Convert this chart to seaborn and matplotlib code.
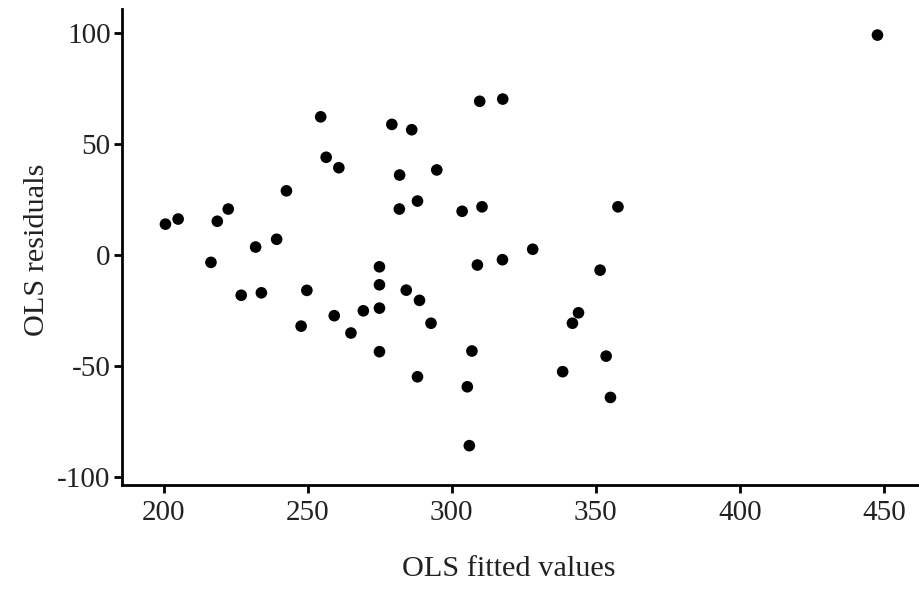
import numpy as np
import pandas as pd
import matplotlib
matplotlib.use("Agg")
import matplotlib.pyplot as plt
import seaborn as sns

fitted = [200.6, 205.0, 218.6, 222.4, 231.9, 239.2, 242.6, 254.5, 256.4, 260.8,
          279.2, 286.1, 281.9, 281.8, 288.1, 216.4, 274.9, 226.9, 233.9, 249.7,
          247.7, 259.2, 265.0, 269.3, 274.9, 274.9, 274.9, 284.2, 288.8, 292.8,
          288.1, 447.8, 309.7, 317.7, 294.8, 303.6, 310.5, 357.7, 328.1, 317.6,
          308.9, 351.5, 344.0, 341.9, 307.0, 353.6, 338.5, 305.4, 355.1, 306.1]
resid = [13.9, 16.2, 15.2, 20.7, 3.6, 7.1, 28.9, 62.2, 44.0, 39.3,
         58.8, 56.4, 36.0, 20.7, 24.3, -3.3, -5.3, -18.1, -17.0, -15.9,
         -32.0, -27.3, -35.1, -25.1, -13.4, -23.9, -43.5, -15.8, -20.4, -30.7,
         -54.8, 99.0, 69.2, 70.2, 38.3, 19.7, 21.7, 21.7, 2.6, -2.1,
         -4.5, -6.8, -26.0, -30.7, -43.2, -45.5, -52.5, -59.3, -64.1, -85.8]
xticks = [200, 250, 300, 350, 400, 450]
yticks = [-100, -50, 0, 50, 100]

df = pd.DataFrame({"fitted": fitted, "resid": resid})

sns.set_style("ticks")
plt.rcParams['font.family'] = ['Liberation Serif', 'DejaVu Serif']
plt.rcParams['axes.unicode_minus'] = False

fig = plt.figure(figsize=(9.19, 5.89), dpi=100)
ax = fig.add_axes([0.1324, 0.1766, 0.8666, 0.8076])
sns.scatterplot(data=df, x="fitted", y="resid", color="black", s=70,
                edgecolor="none", ax=ax)

ax.set_xlim(185.4, 461.9)
ax.set_ylim(-103.5, 110.6)
ax.set_xticks(xticks)
ax.set_yticks(yticks)
ax.tick_params(labelsize=21, labelcolor="#222222", length=6, width=2, color="black")
ax.tick_params(axis="x", pad=5)
ax.tick_params(axis="y", pad=2)
for side in ["top", "right"]:
    ax.spines[side].set_visible(False)
for side in ["left", "bottom"]:
    ax.spines[side].set_linewidth(2)
    ax.spines[side].set_color("black")

ax.set_xlabel("OLS fitted values", fontsize=21.8, color="#222222")
ax.set_ylabel("OLS residuals", fontsize=21.8, color="#222222")
ax.xaxis.set_label_coords(0.4864, -0.15)
ax.yaxis.set_label_coords(-0.09, 0.494)

fig.savefig("out.png", dpi=100)
